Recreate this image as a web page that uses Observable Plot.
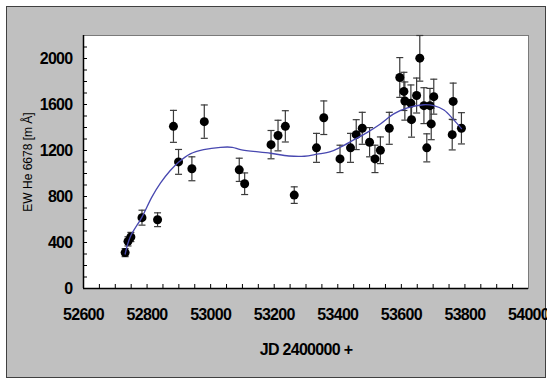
<!DOCTYPE html>
<html>
<head>
<meta charset="utf-8">
<script src="https://cdn.jsdelivr.net/npm/d3@7"></script>
<script src="https://cdn.jsdelivr.net/npm/@observablehq/plot@0.6"></script>
<style>
  html, body { margin: 0; padding: 0; background: #fff; }
  #wrap { position: relative; width: 547px; height: 379px; overflow: hidden; }
  #panel { position: absolute; left: 6px; top: 6px; width: 538px; height: 370px; background: #c0c0c0; border: 1px solid #404040; }
  #chart { position: absolute; left: 0; top: 0; }
  .big text { letter-spacing: -0.7px; }
</style>
</head>
<body>
<div id="wrap"><div id="panel"></div><div id="chart"></div></div>
<script>
// Observations: JD - 2400000, EW He 6678 [mÅ], error
const jd  = [52731, 52740, 52749, 52784, 52833, 52883, 52899, 52941, 52980, 53090, 53107, 53190, 53212, 53235, 53263, 53333, 53356, 53407, 53440, 53458, 53477, 53500, 53517, 53534, 53562, 53595, 53608, 53611, 53630, 53632, 53648, 53658, 53671, 53680, 53690, 53694, 53702, 53760, 53763, 53789];
const ew  = [312, 410, 448, 616, 598, 1410, 1101, 1041, 1451, 1032, 911, 1251, 1330, 1410, 812, 1223, 1485, 1127, 1223, 1338, 1393, 1272, 1127, 1202, 1393, 1835, 1714, 1630, 1610, 1468, 1678, 2003, 1590, 1223, 1590, 1431, 1668, 1338, 1627, 1393];
const err = [35, 40, 40, 65, 60, 139, 108, 104, 145, 101, 94, 123, 133, 136, 72, 126, 146, 119, 126, 130, 139, 127, 119, 116, 139, 173, 166, 166, 160, 152, 152, 200, 156, 122, 150, 137, 152, 133, 159, 136];

// Fitted curve
const fitX = [52731, 52747, 52784, 52815, 52842, 52873, 52899, 52936, 52978, 53031, 53068, 53094, 53188, 53246, 53295, 53335, 53377, 53408, 53450, 53493, 53534, 53576, 53619, 53671, 53702, 53734, 53765, 53789];
const fitY = [300, 448, 621, 795, 916, 1026, 1098, 1171, 1208, 1228, 1228, 1208, 1176, 1152, 1150, 1168, 1190, 1228, 1292, 1358, 1431, 1518, 1570, 1598, 1590, 1552, 1466, 1390];

const xTicks = [52600, 52800, 53000, 53200, 53400, 53600, 53800, 54000];
const yTicks = [0, 400, 800, 1200, 1600, 2000];
const xMinor = d3.range(52650, 54000, 50);
const yMinor = d3.range(100, 2200, 100);

const xLabel = "JD 2400000 +";
const yLabel = "EW He 6678 [m Å]";

const obs = jd.map((x, i) => ({x, y: ew[i], e: err[i]}));
const fit = fitX.map((x, i) => ({x, y: fitY[i]}));

const W = 547, H = 379;
const mL = 83, mR = 19, mT = 35, mB = 91;
const plotW = W - mL - mR, plotH = H - mT - mB;

const cap = { draw(ctx) { ctx.moveTo(-3.5, 0); ctx.lineTo(3.5, 0); } };
const font = "'Liberation Sans', Arial, sans-serif";

const chart = Plot.plot({
  width: W, height: H,
  marginLeft: mL, marginRight: mR, marginTop: mT, marginBottom: mB,
  style: {fontFamily: font, background: "transparent", color: "#000", overflow: "visible"},
  x: {domain: [52600, 54000], label: null},
  y: {domain: [0, 2200], label: null},
  marks: [
    Plot.frame({fill: "white", stroke: "#7a7a7a"}),
    Plot.tickX(xMinor, {x: d => d, insetTop: plotH - 4, stroke: "#000"}),
    Plot.tickY(yMinor, {y: d => d, insetRight: plotW - 4, stroke: "#000"}),
    Plot.ruleX([52600], {stroke: "#000", strokeWidth: 1.5}),
    Plot.ruleY([0], {stroke: "#000", strokeWidth: 1.5}),
    Plot.axisX({ticks: xTicks, tickSize: 0, tickPadding: 20, fontSize: 16, fontWeight: "bold", className: "big", tickFormat: d3.format("d")}),
    Plot.axisY({ticks: yTicks, tickSize: 0, tickPadding: 11, fontSize: 16, fontWeight: "bold", className: "big", tickFormat: d3.format("d")}),
    Plot.ruleX(obs, {x: "x", y1: d => d.y - d.e, y2: d => Math.min(2200, d.y + d.e), stroke: "#3a3a3a", strokeWidth: 1.2}),
    Plot.dot(obs, {x: "x", y: d => Math.min(2200, d.y + d.e), symbol: cap, stroke: "#3a3a3a", strokeWidth: 1.2, r: 3}),
    Plot.dot(obs, {x: "x", y: d => d.y - d.e, symbol: cap, stroke: "#3a3a3a", strokeWidth: 1.2, r: 3}),
    Plot.dot(obs, {x: "x", y: "y", r: 4.5, fill: "#000", stroke: "none"}),
    Plot.line(fit, {x: "x", y: "y", curve: "catmull-rom", stroke: "#4848b0", strokeWidth: 1.3}),
    Plot.text([xLabel], {frameAnchor: "bottom", dy: 61, lineAnchor: "middle", fontSize: 16, fontWeight: "bold", className: "big", fill: "#000"}),
    Plot.text([yLabel], {frameAnchor: "left", dx: -55, rotate: -90, textAnchor: "middle", lineAnchor: "middle", fontSize: 12, fill: "#000"})
  ]
});
document.getElementById("chart").append(chart);
</script>
</body>
</html>
